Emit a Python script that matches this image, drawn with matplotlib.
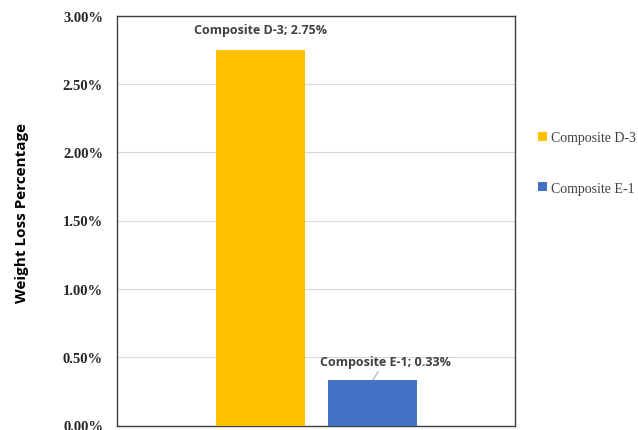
import numpy as np
import matplotlib.pyplot as plt
from matplotlib.ticker import FuncFormatter
from matplotlib.patches import Patch

composites = ['Composite D-3', 'Composite E-1']
weight_loss = [2.75, 0.33]
bar_colors = ['#FFC000', '#4472C4']
y_ticks = [0.0, 0.5, 1.0, 1.5, 2.0, 2.5, 3.0]

fig = plt.figure(figsize=(6.38, 4.31), dpi=100)
ax = fig.add_axes([117 / 638, 4.5 / 431, 398 / 638, 410 / 431])

x = np.arange(len(composites))
bars = ax.bar(x, weight_loss, width=0.79, color=bar_colors, zorder=3)

ax.set_xlim(-1.28, 2.27)
ax.set_ylim(0, 3.0)
ax.set_yticks(y_ticks)
ax.yaxis.set_major_formatter(FuncFormatter(lambda v, p: '%.2f%%' % v))
ax.set_xticks([])
ax.grid(axis='y', color='#d9d9d9', linewidth=0.8, zorder=0)
ax.tick_params(axis='y', length=0, pad=10)
for lab in ax.get_yticklabels():
    lab.set_fontfamily('Liberation Serif')
    lab.set_fontweight('bold')
    lab.set_fontsize(10.5)
    lab.set_color('#262626')
for s in ax.spines.values():
    s.set_color('#404040')
    s.set_linewidth(1.0)

ax.set_ylabel('Weight Loss Percentage', fontfamily='Open Sans', fontweight='bold',
              fontsize=11)
ax.yaxis.set_label_coords(-0.22, 0.52)

# data labels
ax.text(x[0], weight_loss[0] + 0.15, '%s; %.2f%%' % (composites[0], weight_loss[0]),
        ha='center', va='center', fontfamily='Open Sans', fontweight='bold',
        fontsize=9, color='#404040')
ax.annotate('%s; %.2f%%' % (composites[1], weight_loss[1]),
            xy=(x[1], weight_loss[1]), xytext=(x[1] + 0.11, weight_loss[1] + 0.14),
            ha='center', va='center', fontfamily='Open Sans', fontweight='bold',
            fontsize=9, color='#404040',
            arrowprops=dict(arrowstyle='-', color='#a6a6a6', lw=0.8,
                            shrinkA=1, shrinkB=0))

handles = [Patch(facecolor=c, edgecolor='none') for c in bar_colors]
fig.legend(handles, composites, loc='center left', bbox_to_anchor=(525 / 638, 0.62),
           frameon=False, prop={'family': 'Liberation Serif', 'size': 10},
           handlelength=0.65, handleheight=0.65, handletextpad=0.3,
           labelspacing=2.7, labelcolor='#404040')

fig.savefig('out.png', dpi=100)
